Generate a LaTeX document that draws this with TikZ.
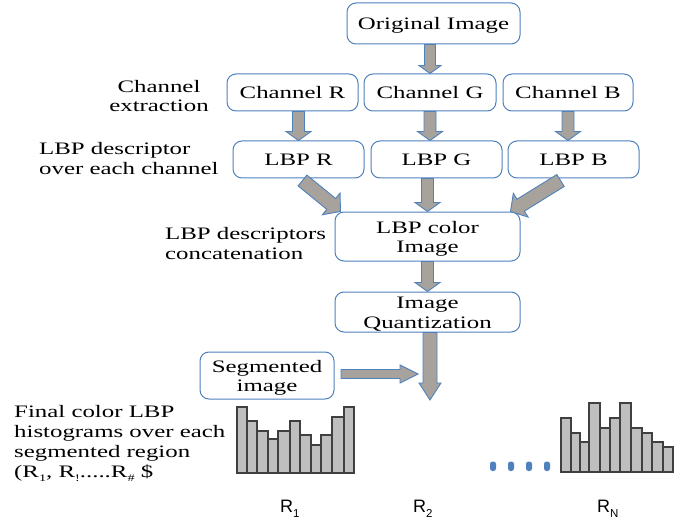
\documentclass[tikz,border=0pt]{standalone}
\usepackage{fontspec}
\setmainfont{Liberation Serif}[FakeStretch=1.42]
\newfontfamily\arialfont{Liberation Sans}
\usetikzlibrary{calc}
\definecolor{boxblue}{HTML}{4F81BD}
\definecolor{arrgray}{HTML}{A7A29B}
\definecolor{barfill}{HTML}{BFBFBF}
\definecolor{baredge}{HTML}{404040}
\newcommand{\blockarrow}[5]{%
  \path (#1) coordinate (ba-s) (#2) coordinate (ba-e);
  \path ($(ba-e)!#5pt!(ba-s)$) coordinate (ba-h);
  \draw[barrow] ($(ba-s)!#3pt!90:(ba-e)$) -- ($(ba-h)!#3pt!-90:(ba-s)$) -- ($(ba-h)!#4pt!-90:(ba-s)$) -- (ba-e) -- ($(ba-h)!#4pt!90:(ba-s)$) -- ($(ba-h)!#3pt!90:(ba-s)$) -- ($(ba-s)!#3pt!-90:(ba-e)$) -- cycle;}
\newcommand{\subtxt}[1]{\raisebox{-4pt}{\fontsize{10}{10}\selectfont #1}}
\newcommand{\rsub}[1]{\raisebox{-5.5pt}{\fontsize{11.5}{12}\selectfont #1}}
\newcommand{\bx}[1]{\raisebox{-2.5pt}[\height][\depth]{\begin{tabular}{@{}c@{}}#1\end{tabular}}}
\begin{document}
\begin{tikzpicture}[x=1pt,y=-1pt,
  stepbox/.style={draw=boxblue, line width=1pt, fill=white, rounded corners=9pt, align=center, inner sep=0pt,
    font=\fontsize{17.5}{19.7}\selectfont},
  lbl/.style={inner sep=0pt, font=\fontsize{17.5}{19.7}\selectfont},
  barrow/.style={fill=arrgray, draw=boxblue, line width=0.9pt, line join=miter},
  histbar/.style={fill=barfill, draw=baredge, line width=1.2pt},
  rlbl/.style={inner sep=0pt, anchor=base west, font=\arialfont\fontsize{18}{20}\selectfont}]
\useasboundingbox (0,0) rectangle (691,524);

% boxes
\node[stepbox, minimum width=173pt, minimum height=41pt] (orig) at (433.5,23.5) {\bx{Original Image}};
\node[stepbox, minimum width=131pt, minimum height=37pt] (chR) at (292.5,92.5) {\bx{Channel R}};
\node[stepbox, minimum width=132pt, minimum height=37pt] (chG) at (430,92.5) {\bx{Channel G}};
\node[stepbox, minimum width=130pt, minimum height=37pt] (chB) at (568,92.5) {\bx{Channel B}};
\node[stepbox, minimum width=131pt, minimum height=37pt] (lbpR) at (298.5,159.5) {\bx{LBP R}};
\node[stepbox, minimum width=131pt, minimum height=37pt] (lbpG) at (436.5,159.5) {\bx{LBP G}};
\node[stepbox, minimum width=131pt, minimum height=37pt] (lbpB) at (573.5,159.5) {\bx{LBP B}};
\node[stepbox, minimum width=185pt, minimum height=49pt] (color) at (427.5,236.5) {\bx{LBP color\\Image}};
\node[stepbox, minimum width=185pt, minimum height=40pt] (quant) at (427.5,312) {\bx{Image\\Quantization}};
\node[stepbox, minimum width=134pt, minimum height=47pt] (seg) at (267,375.5) {\bx{Segmented\\image}};

% free arrow ends
\coordinate (qend) at (430,400);
\coordinate (segstart) at (341,374);
\coordinate (segend) at (418,374);

% arrows
\blockarrow{orig.south -| chG.north}{chG.north}{5.5}{11}{8}
\blockarrow{chR.south -| lbpR.north}{lbpR.north}{6}{12.5}{9}
\blockarrow{chG.south}{chG.south |- lbpG.north}{6}{12.5}{9}
\blockarrow{chB.south}{chB.south |- lbpB.north}{6}{12.5}{9}
\blockarrow{$(lbpR.south)+(4,2)$}{$(color.north west)+(6,0)$}{7}{14}{12}
\blockarrow{lbpG.south -| color.north}{color.north}{6}{12.5}{9}
\blockarrow{$(lbpB.south)+(-13,2)$}{$(color.north east)+(-10,0)$}{7}{14}{12}
\blockarrow{color.south}{quant.north}{6}{12.5}{9}
\blockarrow{quant.south -| qend}{qend}{7}{11}{17}
\blockarrow{segstart}{segend}{4.5}{9}{18}

% left labels
\node[lbl, align=center] (lch) at (159,96) {Channel\\extraction};
\node[lbl, align=left, anchor=west] (llbp) at (39,158.5) {LBP descriptor\\over each channel};
\node[lbl, align=left, anchor=west] (lcat) at (165,243.5) {LBP descriptors\\concatenation};
\node[lbl, align=left, anchor=west] (lfin) at (14,443.5) {Final color LBP\\histograms over each\\segmented region\\(R\subtxt{1}, R\subtxt{!}.....R\subtxt{\#} \$};

% histogram R1
\foreach \xa/\xb/\t in {237/247/407, 247/257/421, 257/268/431, 268/278/439, 278/290/431, 290/300/421, 300/311/435, 311/321/445, 321/332/435, 332/344/417, 344/354/407}
  \draw[histbar] (\xa,\t) rectangle (\xb,473);
% histogram RN
\foreach \xa/\xb/\t in {561/571/418, 571/580/433, 580/589/442, 589/600/403, 600/610/428, 610/620/418, 620/631/403, 631/642/428, 642/652/433, 652/663/442, 663/673/447}
  \draw[histbar] (\xa,\t) rectangle (\xb,472);
% dots
\foreach \x in {493,511,529,547}
  \fill[boxblue, rounded corners=2.5pt] (\x-3,461.5) rectangle (\x+3,471);

% region labels
\node[rlbl] (r1) at (280,512) {R\rsub{1}};
\node[rlbl] (r2) at (413,512) {R\rsub{2}};
\node[rlbl] (rn) at (597,512) {R\rsub{N}};
\end{tikzpicture}
\end{document}
